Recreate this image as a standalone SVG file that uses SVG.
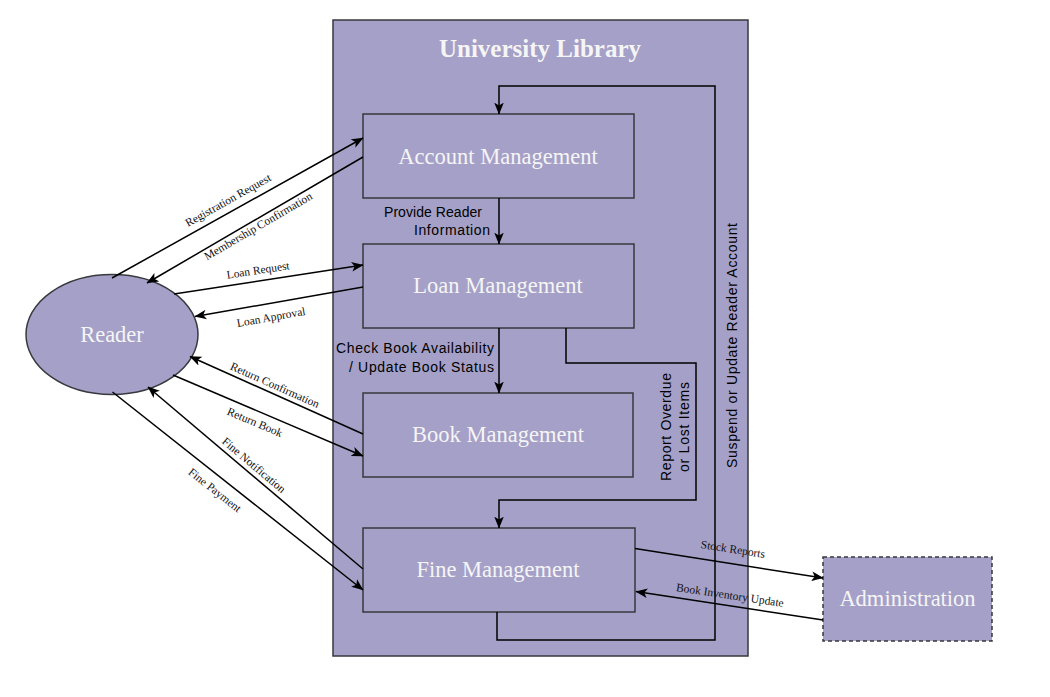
<svg xmlns="http://www.w3.org/2000/svg" width="1050" height="697" viewBox="0 0 1050 697">
<defs>
<style>
.box{fill:#A5A0C7;stroke:#36393D;stroke-width:1.5}
.ntext{font-family:"Liberation Serif","Times New Roman",serif;font-size:22.5px;fill:#F5F5F5;text-anchor:middle}
.title{font-family:"Liberation Serif","Times New Roman",serif;font-size:25px;font-weight:bold;fill:#F5F5F5;text-anchor:middle}
.edge{fill:none;stroke:#000;stroke-width:1.5;marker-end:url(#arr)}
.elabel{font-family:"Liberation Serif","Times New Roman",serif;font-size:11.5px;fill:#111;text-anchor:middle}
.slabel{font-family:"Liberation Sans",Arial,sans-serif;font-size:14px;fill:#000}
</style>
<marker id="arr" viewBox="0 0 10 8" markerWidth="12" markerHeight="10" refX="9.5" refY="4" orient="auto" markerUnits="userSpaceOnUse">
<path d="M0,0 L10,4 L0,8 L2.5,4 Z" fill="#000"/>
</marker>
</defs>
<rect width="1050" height="697" fill="#FFFFFF"/>
<g id="university-library">
<rect class="box" x="333" y="20" width="415" height="636"/>
<text class="title" x="540" y="57">University Library</text>
</g>
<g id="account-management">
<rect class="box" x="363" y="114" width="271" height="84"/>
<text class="ntext" x="498" y="163.5">Account Management</text>
</g>
<g id="loan-management">
<rect class="box" x="363" y="244" width="271" height="84"/>
<text class="ntext" x="498" y="293">Loan Management</text>
</g>
<g id="book-management">
<rect class="box" x="363" y="393" width="270" height="84"/>
<text class="ntext" x="498" y="442">Book Management</text>
</g>
<g id="fine-management">
<rect class="box" x="363" y="528" width="272" height="84"/>
<text class="ntext" x="498" y="577">Fine Management</text>
</g>
<g id="reader">
<ellipse class="box" cx="112" cy="334.5" rx="86" ry="60"/>
<text class="ntext" x="112" y="342">Reader</text>
</g>
<g id="administration">
<rect class="box" x="823" y="557" width="169" height="84" stroke-dasharray="4 3"/>
<text class="ntext" x="907.5" y="606">Administration</text>
</g>
<g id="connectors">
<path class="edge" d="M499,198 L499,244"/>
<path class="edge" d="M499,328 L499,393"/>
<path class="edge" d="M566,328 L566,363 L696,363 L696,500 L499,500 L499,528"/>
<path class="edge" d="M497,612 L497,640 L715,640 L715,86 L499,86 L499,114"/>
<path class="edge" d="M112,278 L363,138"/>
<path class="edge" d="M363,157 L147,283"/>
<path class="edge" d="M174,294 L363,265"/>
<path class="edge" d="M363,287 L195,316.5"/>
<path class="edge" d="M363,434 L190,356.5"/>
<path class="edge" d="M173,375 L363,456"/>
<path class="edge" d="M363,569 L148,387"/>
<path class="edge" d="M112.5,392 L363,590"/>
<path class="edge" d="M635,548.5 L823,578"/>
<path class="edge" d="M823,620 L636,591.5"/>
<text class="slabel" x="384" y="217" textLength="98" lengthAdjust="spacing">Provide Reader</text>
<text class="slabel" x="414" y="235" textLength="76" lengthAdjust="spacing">Information</text>
<text class="slabel" x="336" y="353" textLength="158" lengthAdjust="spacing">Check Book Availability</text>
<text class="slabel" x="349" y="372" textLength="145" lengthAdjust="spacing">/ Update Book Status</text>
<g transform="translate(675,427) rotate(-90)">
<text class="slabel" x="0" y="-4" text-anchor="middle" textLength="108" lengthAdjust="spacing">Report Overdue</text>
<text class="slabel" x="0" y="14" text-anchor="middle" textLength="90" lengthAdjust="spacing">or Lost Items</text>
</g>
<text class="slabel" transform="translate(733,345.5) rotate(-90)" x="0" y="4" text-anchor="middle" textLength="245" lengthAdjust="spacing">Suspend or Update Reader Account</text>
<text class="elabel" transform="translate(228,200) rotate(-29.2)" y="4">Registration Request</text>
<text class="elabel" transform="translate(258,226) rotate(-30.3)" y="4">Membership Confirmation</text>
<text class="elabel" transform="translate(258,270) rotate(-8.7)" y="4">Loan Request</text>
<text class="elabel" transform="translate(271,317) rotate(-10.1)" y="4">Loan Approval</text>
<text class="elabel" transform="translate(275,385) rotate(24)" y="4">Return Confirmation</text>
<text class="elabel" transform="translate(255,422) rotate(23)" y="4">Return Book</text>
<text class="elabel" transform="translate(254,465) rotate(40.2)" y="4">Fine Notification</text>
<text class="elabel" transform="translate(215,490) rotate(38.3)" y="4">Fine Payment</text>
<text class="elabel" transform="translate(733,549) rotate(8.8)" y="4">Stock Reports</text>
<text class="elabel" transform="translate(730,595) rotate(8.5)" y="4">Book Inventory Update</text>
</g>
</svg>
